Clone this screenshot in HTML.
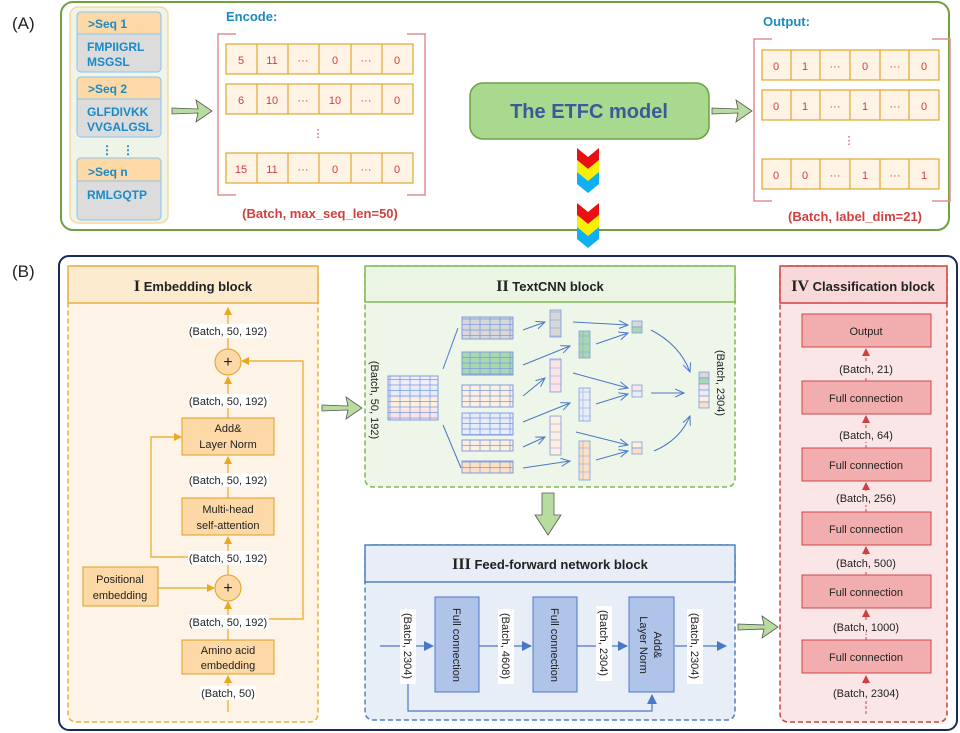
<!DOCTYPE html>
<html><head><meta charset="utf-8"><style>body{margin:0;background:#fff}svg{display:block}text{font-family:"Liberation Sans",sans-serif}</style></head><body>
<svg width="960" height="733" viewBox="0 0 960 733" xmlns="http://www.w3.org/2000/svg">
<defs>
<pattern id="g10" width="10" height="5.5" patternUnits="userSpaceOnUse"><rect width="10" height="5.5" fill="none" stroke="#7f9ee0" stroke-width="0.8"/></pattern>
<pattern id="gv" width="11" height="8" patternUnits="userSpaceOnUse"><rect width="11" height="8" fill="none" stroke="#7f9ee0" stroke-width="0.8"/></pattern>
<marker id="ao" markerWidth="8" markerHeight="8" refX="7" refY="4" orient="auto" markerUnits="userSpaceOnUse"><path d="M0,0 L8,4 L0,8z" fill="#e8a820"/></marker>
<marker id="ab" markerWidth="10" markerHeight="10" refX="9" refY="5" orient="auto" markerUnits="userSpaceOnUse"><path d="M0,0 L10,5 L0,10z" fill="#4a78c8"/></marker>
<marker id="ar" markerWidth="8" markerHeight="8" refX="7" refY="4" orient="auto" markerUnits="userSpaceOnUse"><path d="M0,0 L8,4 L0,8z" fill="#d04040"/></marker>
<marker id="av" markerWidth="10" markerHeight="10" refX="9" refY="5" orient="auto" markerUnits="userSpaceOnUse"><path d="M0,1 L9,5 L0,9" fill="none" stroke="#4a78c8" stroke-width="1"/></marker>
<g id="garrow"><path d="M0,-3 L26,-2 L24,-11 L40,0 L24,11 L26,2 L0,3z" fill="#b8dca0" stroke="#555" stroke-width="0.8"/></g>
<g id="chev"><path d="M0,0 L11,9 L22,0 L22,12 L11,21 L0,12z" fill="#e81010"/><path d="M0,12 L11,21 L22,12 L22,24 L11,33 L0,24z" fill="#f8f000"/><path d="M0,24 L11,33 L22,24 L22,36 L11,45 L0,36z" fill="#10b0f0"/></g>
</defs>
<text x="12" y="29" font-size="17" fill="#222">(A)</text>
<text x="12" y="277" font-size="17" fill="#222">(B)</text>
<rect x="61" y="2" width="888" height="228" rx="12" fill="#fff" stroke="#70a040" stroke-width="2"/>
<!-- seq list -->
<rect x="70" y="7" width="98" height="216" rx="8" fill="#eef5e8" stroke="#f5d8a0" stroke-width="1.5"/>
<g stroke="#8cc4ec" stroke-width="1">
<rect x="77" y="12" width="84" height="60" rx="4" fill="#dcdcdc"/><path d="M77,34 V16 a4,4 0 0 1 4,-4 H157 a4,4 0 0 1 4,4 V34z" fill="#fdd9a8"/>
<rect x="77" y="77" width="84" height="60" rx="4" fill="#dcdcdc"/><path d="M77,99 V81 a4,4 0 0 1 4,-4 H157 a4,4 0 0 1 4,4 V99z" fill="#fdd9a8"/>
<rect x="77" y="158" width="84" height="62" rx="4" fill="#dcdcdc"/><path d="M77,181 V162 a4,4 0 0 1 4,-4 H157 a4,4 0 0 1 4,4 V181z" fill="#fdd9a8"/>
</g>
<g font-size="12" font-weight="bold" fill="#1a8ac8">
<text x="88" y="28">&gt;Seq 1</text><text x="87" y="51">FMPIIGRL</text><text x="87" y="66">MSGSL</text>
<text x="88" y="93">&gt;Seq 2</text><text x="87" y="116">GLFDIVKK</text><text x="87" y="131">VVGALGSL</text>
<text x="101" y="154">⋮</text><text x="122" y="154">⋮</text>
<text x="88" y="176">&gt;Seq n</text><text x="87" y="199">RMLGQTP</text>
</g>
<use href="#garrow" x="172" y="111"/>
<text x="226" y="21" font-size="13" font-weight="bold" fill="#1a8ac0">Encode:</text>
<path d="M236,34 H218 V195 H236 M407,34 H425 V195 H407" fill="none" stroke="#e09090" stroke-width="1.5"/>
<g stroke="#e0a830" fill="#fff3e6" stroke-width="1.2">
<rect x="226" y="44" width="187" height="30"/><rect x="226" y="84" width="187" height="30"/><rect x="226" y="153" width="187" height="30"/>
<path d="M257,44V74M288,44V74M319,44V74M351,44V74M382,44V74M257,84V114M288,84V114M319,84V114M351,84V114M382,84V114M257,153V183M288,153V183M319,153V183M351,153V183M382,153V183" fill="none"/>
</g>
<g font-size="11" fill="#d04040" text-anchor="middle">
<text x="241" y="64">5</text><text x="272" y="64">11</text><text x="303" y="64">···</text><text x="335" y="64">0</text><text x="366" y="64">···</text><text x="397" y="64">0</text>
<text x="241" y="104">6</text><text x="272" y="104">10</text><text x="303" y="104">···</text><text x="335" y="104">10</text><text x="366" y="104">···</text><text x="397" y="104">0</text>
<text x="318" y="137">⋮</text>
<text x="241" y="173">15</text><text x="272" y="173">11</text><text x="303" y="173">···</text><text x="335" y="173">0</text><text x="366" y="173">···</text><text x="397" y="173">0</text>
</g>
<text x="320" y="218" font-size="13" font-weight="bold" fill="#d04040" text-anchor="middle">(Batch, max_seq_len=50)</text>
<rect x="470" y="83" width="239" height="56" rx="13" fill="#a9d88f" stroke="#70a040" stroke-width="1.5"/>
<text x="589" y="118" font-size="20" font-weight="bold" fill="#3a5a9a" text-anchor="middle">The ETFC model</text>
<use href="#garrow" x="712" y="111"/>
<text x="763" y="26" font-size="13" font-weight="bold" fill="#1a8ac0">Output:</text>
<path d="M772,39 H754 V201 H772 M932,39 H950 V201 H932" fill="none" stroke="#e09090" stroke-width="1.5"/>
<g stroke="#e0a830" fill="#fff3e6" stroke-width="1.2">
<rect x="762" y="50" width="177" height="30"/><rect x="762" y="90" width="177" height="30"/><rect x="762" y="159" width="177" height="30"/>
<path d="M791,50V80M820,50V80M850,50V80M880,50V80M909,50V80M791,90V120M820,90V120M850,90V120M880,90V120M909,90V120M791,159V189M820,159V189M850,159V189M880,159V189M909,159V189" fill="none"/>
</g>
<g font-size="11" fill="#d04040" text-anchor="middle">
<text x="776" y="70">0</text><text x="805" y="70">1</text><text x="835" y="70">···</text><text x="865" y="70">0</text><text x="895" y="70">···</text><text x="924" y="70">0</text>
<text x="776" y="110">0</text><text x="805" y="110">1</text><text x="835" y="110">···</text><text x="865" y="110">1</text><text x="895" y="110">···</text><text x="924" y="110">0</text>
<text x="849" y="144">⋮</text>
<text x="776" y="179">0</text><text x="805" y="179">0</text><text x="835" y="179">···</text><text x="865" y="179">1</text><text x="895" y="179">···</text><text x="924" y="179">1</text>
</g>
<text x="855" y="221" font-size="13" font-weight="bold" fill="#d04040" text-anchor="middle">(Batch, label_dim=21)</text>
<use href="#chev" x="577" y="148"/><use href="#chev" x="577" y="203"/>

<!-- Panel B -->
<rect x="59" y="256" width="898" height="474" rx="10" fill="#fff" stroke="#1a2a5a" stroke-width="2"/>
<!-- Embedding -->
<rect x="68" y="266" width="250" height="456" rx="8" fill="#fdf3e6" stroke="#e8b040" stroke-width="1.5" stroke-dasharray="5,3"/>
<rect x="68" y="266" width="250" height="37" fill="#fdebcf" stroke="#e8b040" stroke-width="1.5"/>
<text x="193" y="291" font-size="13" font-weight="bold" fill="#222" text-anchor="middle"><tspan font-family="Liberation Serif" font-size="16">I</tspan>  Embedding block</text>
<g stroke="#e8a820" stroke-width="1.2" fill="none">
<path d="M228,712 V676" marker-end="url(#ao)"/>
<path d="M228,640 V602" marker-end="url(#ao)"/>
<path d="M228,575 V537" marker-end="url(#ao)"/>
<path d="M228,498 V457" marker-end="url(#ao)"/>
<path d="M228,418 V377" marker-end="url(#ao)"/>
<path d="M228,349 V308" marker-end="url(#ao)"/>
<path d="M158,588 H214" marker-end="url(#ao)"/>
<path d="M228,557 H151 V437 H181" marker-end="url(#ao)"/>
<path d="M258,619 H303 V361 H242" marker-end="url(#ao)"/>
</g>
<g fill="#fdd9a8" stroke="#e0a020" stroke-width="1">
<circle cx="228" cy="362" r="13"/><circle cx="228" cy="588" r="13"/>
<rect x="182" y="418" width="92" height="37"/><rect x="182" y="498" width="92" height="37"/><rect x="182" y="640" width="92" height="34"/><rect x="83" y="567" width="75" height="39"/>
</g>
<g font-size="11" fill="#222" text-anchor="middle">
<text x="228" y="367" font-size="16">+</text><text x="228" y="593" font-size="16">+</text>
<text x="228" y="432">Add&amp;</text><text x="228" y="448">Layer Norm</text>
<text x="228" y="513">Multi-head</text><text x="228" y="529">self-attention</text>
<text x="228" y="654">Amino acid</text><text x="228" y="669">embedding</text>
<text x="120" y="583">Positional</text><text x="120" y="599">embedding</text>
</g>
<g font-size="11" fill="#222" text-anchor="middle">
<rect x="189" y="324" width="80" height="14" fill="#fff"/><text x="228" y="335">(Batch, 50, 192)</text>
<rect x="189" y="394" width="80" height="14" fill="#fff"/><text x="228" y="405">(Batch, 50, 192)</text>
<rect x="189" y="473" width="80" height="14" fill="#fff"/><text x="228" y="484">(Batch, 50, 192)</text>
<rect x="188" y="551" width="80" height="14" fill="#fff"/><text x="228" y="562">(Batch, 50, 192)</text>
<rect x="189" y="615" width="80" height="14" fill="#fff"/><text x="228" y="626">(Batch, 50, 192)</text>
<rect x="200" y="686" width="56" height="14" fill="#fff"/><text x="228" y="697">(Batch, 50)</text>
</g>
<use href="#garrow" x="322" y="408"/>
<!-- TextCNN -->
<rect x="365" y="266" width="370" height="221" rx="8" fill="#edf6e9" stroke="#80b850" stroke-width="1.5" stroke-dasharray="5,3"/>
<rect x="365" y="266" width="370" height="36" fill="#eaf5e4" stroke="#80b850" stroke-width="1.5"/>
<text x="550" y="291" font-size="13" font-weight="bold" fill="#222" text-anchor="middle"><tspan font-family="Liberation Serif" font-size="16">II</tspan>  TextCNN block</text>
<text transform="translate(371,400) rotate(90)" font-size="11" fill="#222" text-anchor="middle">(Batch, 50, 192)</text>
<text transform="translate(717,383) rotate(90)" font-size="11" fill="#222" text-anchor="middle">(Batch, 2304)</text>
<rect x="388" y="376" width="50" height="11" fill="#eeeef8"/><rect x="388" y="387" width="50" height="11" fill="#e6ecf8"/><rect x="388" y="398" width="50" height="11" fill="#fdf0e0"/><rect x="388" y="409" width="50" height="11" fill="#fbe4e6"/>
<rect x="388" y="376" width="50" height="44" fill="url(#g10)" stroke="#7f9ee0"/>
<g stroke="#7f9ee0">
<rect x="462" y="317" width="51" height="22" fill="#d8d8d8"/><rect x="462" y="352" width="51" height="23" fill="#a8d8b0"/>
<rect x="462" y="385" width="51" height="22" fill="#fdf0e0"/><rect x="462" y="413" width="51" height="22" fill="#e6ecf8"/>
<rect x="462" y="440" width="51" height="11" fill="#fdf0e0"/><rect x="462" y="461" width="51" height="12" fill="#fde0c4"/>
</g>
<g fill="url(#g10)"><rect x="462" y="317" width="51" height="22"/><rect x="462" y="352" width="51" height="23"/><rect x="462" y="385" width="51" height="22"/><rect x="462" y="413" width="51" height="22"/><rect x="462" y="440" width="51" height="11"/><rect x="462" y="461" width="51" height="12"/></g>
<g stroke="#7f9ee0" stroke-width="0.8">
<rect x="550" y="310" width="11" height="27" fill="#d8d8d8"/><rect x="579" y="331" width="11" height="27" fill="#a8d8b0"/>
<rect x="550" y="359" width="11" height="33" fill="#fbe4e6"/><rect x="579" y="388" width="11" height="33" fill="#e6ecf8"/>
<rect x="550" y="416" width="11" height="39" fill="#fdf0e0"/><rect x="579" y="441" width="11" height="39" fill="#fde0c4"/>
<rect x="632" y="321" width="10" height="6" fill="#d8d8d8"/><rect x="632" y="327" width="10" height="6" fill="#a8d8b0"/>
<rect x="632" y="385" width="10" height="6" fill="#fbe4e6"/><rect x="632" y="391" width="10" height="6" fill="#e6ecf8"/>
<rect x="632" y="442" width="10" height="6" fill="#fdf0e0"/><rect x="632" y="448" width="10" height="6" fill="#fde0c4"/>
<rect x="699" y="372" width="10" height="6" fill="#d8d8d8"/><rect x="699" y="378" width="10" height="6" fill="#a8d8b0"/><rect x="699" y="384" width="10" height="6" fill="#fbe4e6"/><rect x="699" y="390" width="10" height="6" fill="#e6ecf8"/><rect x="699" y="396" width="10" height="6" fill="#fdf0e0"/><rect x="699" y="402" width="10" height="6" fill="#fde0c4"/>
</g>
<g fill="url(#gv)" opacity="0.6"><rect x="550" y="310" width="11" height="27"/><rect x="579" y="331" width="11" height="27"/><rect x="550" y="359" width="11" height="33"/><rect x="579" y="388" width="11" height="33"/><rect x="550" y="416" width="11" height="39"/><rect x="579" y="441" width="11" height="39"/></g>
<g stroke="#4a78c8" stroke-width="1" fill="none">
<path d="M443,369 L458,328"/><path d="M443,425 L461,468"/>
<path d="M523,330 L545,322" marker-end="url(#av)"/><path d="M523,365 L570,346" marker-end="url(#av)"/>
<path d="M523,396 L545,378" marker-end="url(#av)"/><path d="M523,422 L570,403" marker-end="url(#av)"/>
<path d="M523,447 L545,437" marker-end="url(#av)"/><path d="M523,468 L570,461" marker-end="url(#av)"/>
<path d="M573,322 L628,325" marker-end="url(#av)"/><path d="M596,344 L628,333" marker-end="url(#av)"/>
<path d="M573,373 L628,388" marker-end="url(#av)"/><path d="M596,404 L628,394" marker-end="url(#av)"/>
<path d="M576,432 L628,445" marker-end="url(#av)"/><path d="M596,460 L628,451" marker-end="url(#av)"/>
<path d="M651,330 Q680,345 690,372" marker-end="url(#av)"/><path d="M651,393 L684,393" marker-end="url(#av)"/><path d="M654,451 Q680,440 690,416" marker-end="url(#av)"/>
</g>
<path d="M542,493 V515 h-7 l13,20 l13,-20 h-7 V493z" fill="#b8dca0" stroke="#555" stroke-width="0.8"/>
<!-- FF -->
<rect x="365" y="545" width="370" height="175" rx="8" fill="#e8eef8" stroke="#5080c0" stroke-width="1.5" stroke-dasharray="5,3"/>
<rect x="365" y="545" width="370" height="37" fill="#e8eef8" stroke="#5080c0" stroke-width="1.5"/>
<text x="550" y="569" font-size="13" font-weight="bold" fill="#222" text-anchor="middle"><tspan font-family="Liberation Serif" font-size="16">III</tspan>  Feed-forward network block</text>
<g stroke="#4a78c8" stroke-width="1.2" fill="none">
<path d="M380,646 H433" marker-end="url(#ab)"/><path d="M479,646 H531" marker-end="url(#ab)"/><path d="M577,646 H627" marker-end="url(#ab)"/><path d="M675,646 H726" marker-end="url(#ab)"/>
<path d="M408,660 V711 H652 V695" marker-end="url(#ab)"/>
</g>
<g fill="#b0c4ea" stroke="#4a78c8"><rect x="435" y="597" width="44" height="95"/><rect x="533" y="597" width="44" height="95"/><rect x="629" y="597" width="45" height="95"/></g>
<g font-size="11" fill="#222" text-anchor="middle">
<text transform="translate(453,645) rotate(90)">Full connection</text><text transform="translate(551,645) rotate(90)">Full connection</text>
<text transform="translate(654,645) rotate(90)">Add&amp;</text><text transform="translate(640,645) rotate(90)">Layer Norm</text>
<rect x="400" y="609" width="16" height="75" fill="#fff"/><text transform="translate(404,646) rotate(90)">(Batch, 2304)</text>
<rect x="498" y="609" width="16" height="75" fill="#fff"/><text transform="translate(502,646) rotate(90)">(Batch, 4608)</text>
<rect x="596" y="606" width="16" height="75" fill="#fff"/><text transform="translate(600,643) rotate(90)">(Batch, 2304)</text>
<rect x="687" y="609" width="16" height="75" fill="#fff"/><text transform="translate(691,646) rotate(90)">(Batch, 2304)</text>
</g>
<use href="#garrow" x="738" y="627"/>
<!-- Classification -->
<rect x="780" y="266" width="167" height="456" rx="8" fill="#fae6e6" stroke="#d04040" stroke-width="1.5" stroke-dasharray="5,3"/>
<rect x="780" y="266" width="167" height="37" fill="#f8d8d8" stroke="#d04040" stroke-width="1.5"/>
<text x="863" y="291" font-size="13" font-weight="bold" fill="#222" text-anchor="middle"><tspan font-family="Liberation Serif" font-size="16">IV</tspan>  Classification block</text>
<g stroke="#d04040" stroke-width="1" stroke-dasharray="3,2">
<path d="M866,714 V676" marker-end="url(#ar)"/><path d="M866,640 V610" marker-end="url(#ar)"/><path d="M866,575 V547" marker-end="url(#ar)"/><path d="M866,512 V483" marker-end="url(#ar)"/><path d="M866,448 V416" marker-end="url(#ar)"/><path d="M866,381 V349" marker-end="url(#ar)"/>
</g>
<g fill="#f2aeae" stroke="#d04848"><rect x="802" y="314" width="129" height="33"/><rect x="802" y="381" width="129" height="33"/><rect x="802" y="448" width="129" height="33"/><rect x="802" y="512" width="129" height="33"/><rect x="802" y="575" width="129" height="33"/><rect x="802" y="640" width="129" height="33"/></g>
<g font-size="11" fill="#222" text-anchor="middle">
<text x="866" y="335">Output</text><text x="866" y="402">Full connection</text><text x="866" y="469">Full connection</text><text x="866" y="533">Full connection</text><text x="866" y="596">Full connection</text><text x="866" y="661">Full connection</text>
<rect x="836" y="362" width="60" height="14" fill="#fae6e6"/><text x="866" y="373">(Batch, 21)</text>
<rect x="836" y="428" width="60" height="14" fill="#fae6e6"/><text x="866" y="439">(Batch, 64)</text>
<rect x="833" y="491" width="66" height="14" fill="#fae6e6"/><text x="866" y="502">(Batch, 256)</text>
<rect x="833" y="556" width="66" height="14" fill="#fae6e6"/><text x="866" y="567">(Batch, 500)</text>
<rect x="830" y="620" width="72" height="14" fill="#fae6e6"/><text x="866" y="631">(Batch, 1000)</text>
<rect x="830" y="686" width="72" height="14" fill="#fae6e6"/><text x="866" y="697">(Batch, 2304)</text>
</g>
</svg>
</body></html>
